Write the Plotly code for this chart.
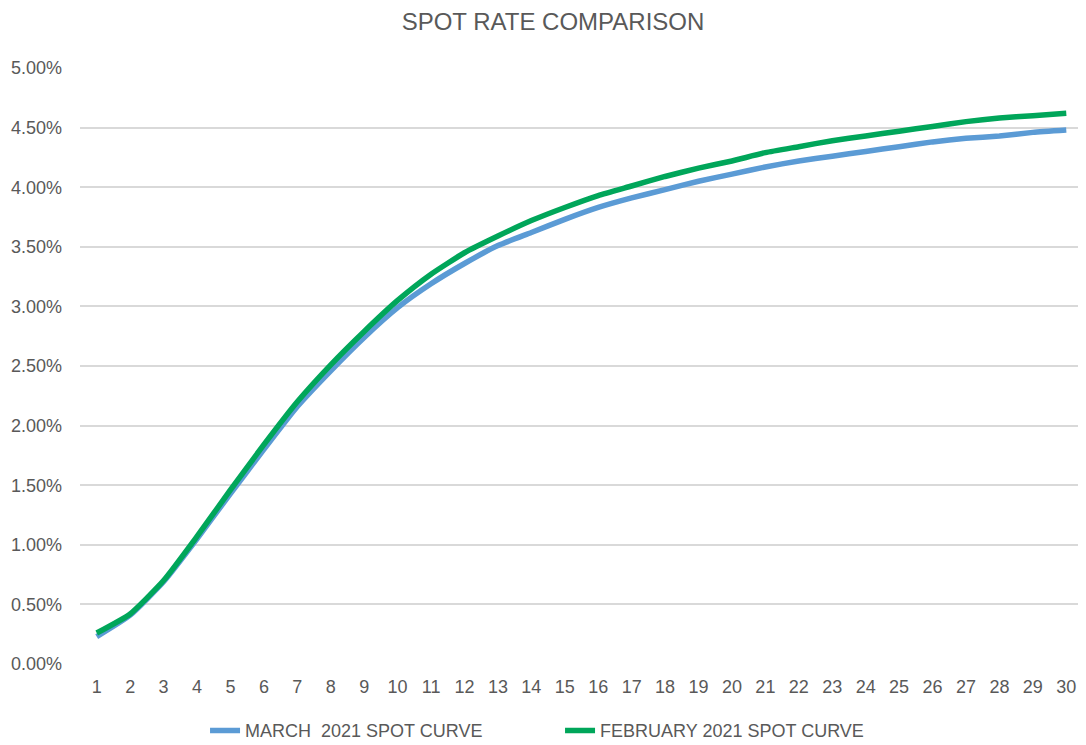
import plotly.graph_objects as go

years = list(range(1, 31))
march_2021 = [0.23, 0.41, 0.69, 1.05, 1.43, 1.80, 2.16, 2.46, 2.74, 2.99,
              3.19, 3.36, 3.51, 3.62, 3.73, 3.83, 3.91, 3.98, 4.05, 4.11,
              4.17, 4.22, 4.26, 4.30, 4.34, 4.38, 4.41, 4.43, 4.46, 4.48]
february_2021 = [0.26, 0.42, 0.70, 1.07, 1.46, 1.84, 2.20, 2.51, 2.79, 3.05,
                 3.27, 3.45, 3.59, 3.72, 3.83, 3.93, 4.01, 4.09, 4.16, 4.22,
                 4.29, 4.34, 4.39, 4.43, 4.47, 4.51, 4.55, 4.58, 4.60, 4.62]
y_ticks = [0.0, 0.5, 1.0, 1.5, 2.0, 2.5, 3.0, 3.5, 4.0, 4.5, 5.0]

FONT = "Liberation Sans, Arial, sans-serif"
TXT = "#595959"
W, H = 1078, 737

fig = go.Figure()
fig.add_trace(go.Scatter(x=years, y=march_2021, mode="lines",
                         name="MARCH  2021 SPOT CURVE",
                         line=dict(color="#5B9BD5", width=5.5, shape="spline", smoothing=0.5)))
fig.add_trace(go.Scatter(x=years, y=february_2021, mode="lines",
                         name="FEBRUARY 2021 SPOT CURVE",
                         line=dict(color="#00A65A", width=5.5, shape="spline", smoothing=0.5)))

fig.update_layout(
    width=W, height=H,
    paper_bgcolor="white", plot_bgcolor="white",
    margin=dict(l=72, r=3, t=60, b=81, autoexpand=False),
    title=dict(text="SPOT RATE COMPARISON", x=(553 - 8) / W, xanchor="center",
               y=1 - 14 / H, yanchor="middle",
               font=dict(family=FONT, size=24, color=TXT)),
    font=dict(family=FONT, size=18, color=TXT),
    showlegend=True,
    legend=dict(orientation="h", x=0.4786, xanchor="center", y=-0.112, yanchor="middle",
                font=dict(family=FONT, size=18, color=TXT),
                entrywidth=310, entrywidthmode="pixels",
                traceorder="normal"),
    xaxis=dict(range=[0.5, 30.5], tickmode="array", tickvals=years,
               ticktext=[str(v) for v in years], showgrid=False, zeroline=False,
               showline=False, ticks="", ticklabelstandoff=10,
               tickfont=dict(size=18, color=TXT)),
    yaxis=dict(range=[0, 5.0], tickmode="array", tickvals=y_ticks,
               ticktext=[f"{v:.2f}%" for v in y_ticks],
               showgrid=True, gridcolor="#D9D9D9", gridwidth=2, zeroline=False,
               showline=False, ticks="", ticklabelstandoff=17,
               tickfont=dict(size=18, color=TXT)),
)

fig.write_html("out.html")
